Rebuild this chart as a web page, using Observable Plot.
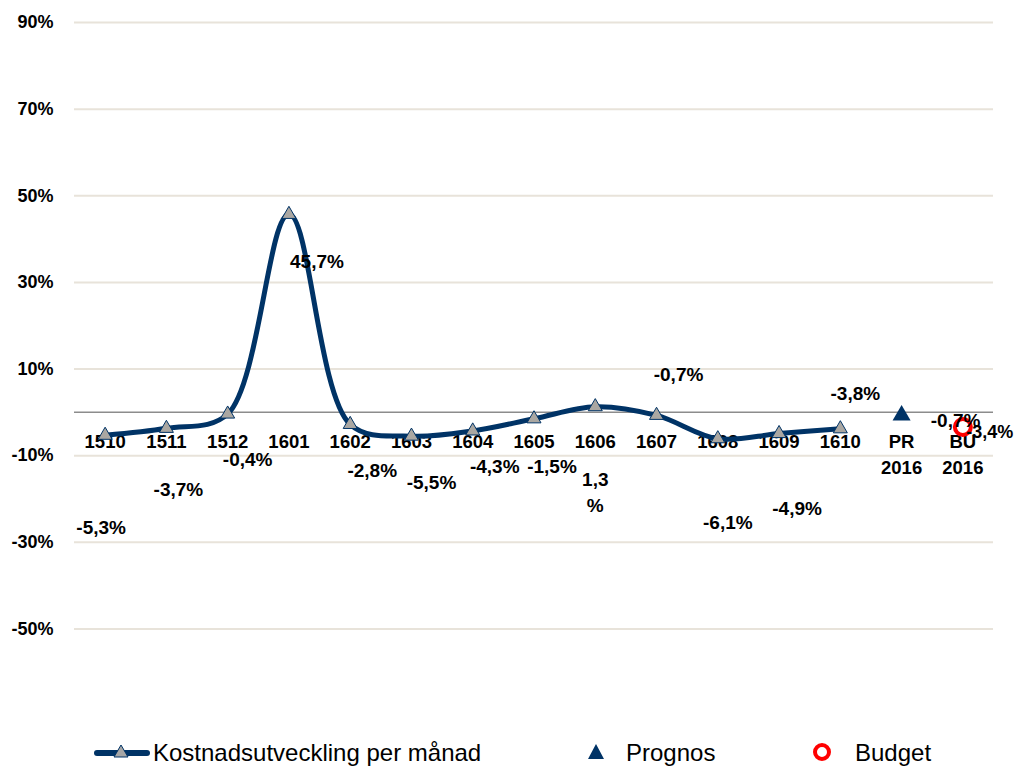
<!DOCTYPE html>
<html>
<head>
<meta charset="utf-8">
<script src="https://cdn.jsdelivr.net/npm/d3@7"></script>
<script src="https://cdn.jsdelivr.net/npm/@observablehq/plot@0.6"></script>
<style>
  html, body { margin: 0; padding: 0; background: #fff; }
  #chart { width: 1015px; }
  .legend { position: relative; width: 1015px; height: 36px; font-family: "Liberation Sans", Arial, sans-serif; font-size: 24px; color: #000; }
  .legend .item { position: absolute; top: 0; height: 36px; display: flex; align-items: center; }
  .legend svg { display: block; }
</style>
</head>
<body>
<div id="chart"></div>
<div class="legend">
  <div class="item" style="left:92px;">
    <svg width="60" height="36"><line x1="5" y1="23" x2="55" y2="23" stroke="#003366" stroke-width="6" stroke-linecap="round"/><path d="M29,15 L36,27 L22,27 Z" fill="#a6a6a6" stroke="#003366" stroke-width="1"/></svg>
    <span style="margin-left:1px; margin-top:10px;">Kostnadsutveckling per månad</span>
  </div>
  <div class="item" style="left:586px;">
    <svg width="22" height="36"><path d="M10,14 L18,29 L2,29 Z" fill="#003366"/></svg>
    <span style="margin-left:18px; margin-top:10px;">Prognos</span>
  </div>
  <div class="item" style="left:812px;">
    <svg width="22" height="36"><circle cx="10" cy="22" r="7" fill="none" stroke="#ff0000" stroke-width="4"/></svg>
    <span style="margin-left:21px; margin-top:10px;">Budget</span>
  </div>
</div>
<script>
// Data
const categories = ["1510","1511","1512","1601","1602","1603","1604","1605","1606","1607","1608","1609","1610","PR\n2016","BU\n2016"];
const monthlyValues = [-5.3, -3.7, -0.4, 45.7, -2.8, -5.5, -4.3, -1.5, 1.3, -0.7, -6.1, -4.9, -3.8];
const prognosValue = -0.7;
const budgetValue = -3.4;
const valueLabels = ["-5,3%","-3,7%","-0,4%","45,7%","-2,8%","-5,5%","-4,3%","-1,5%","1,3\n%","-0,7%","-6,1%","-4,9%","-3,8%","-0,7%","-3,4%"];
const yTicks = [90, 70, 50, 30, 10, -10, -30, -50];

// label placement offsets (px) as in the reference
const labelOffsets = [[-4,91],[12,59],[20,44],[28,45],[22,44],[20,45],[22,34],[18,46],[0,84],[22,-43],[10,82],[18,73],[15,-37],[54,3],[27,3]];

const monthly = monthlyValues.map((v, i) => ({i, v}));
const allValues = [...monthlyValues, prognosValue, budgetValue];
const cats = categories.map((c, i) => ({i, c}));

const font = "'Liberation Sans', Arial, sans-serif";
const navy = "#003366";

const labelMarks = allValues.map((v, i) => Plot.text([{i, v, t: valueLabels[i]}], {
  x: "i", y: "v", text: "t",
  dx: labelOffsets[i][0], dy: labelOffsets[i][1],
  fontSize: i === 14 ? 18 : 19, fontWeight: "bold", fill: "#000", lineHeight: 1.35
}));

const chart = Plot.plot({
  width: 1015,
  height: 730,
  marginLeft: 74,
  marginRight: 22,
  marginTop: 22,
  marginBottom: 15,
  style: {fontFamily: font, background: "#fff"},
  x: {domain: [-0.5, 14.5], axis: null},
  y: {domain: [-70, 90], axis: null},
  marks: [
    Plot.gridY(yTicks, {stroke: "#e8e3da", strokeOpacity: 1, strokeWidth: 2}),
    Plot.axisY(yTicks, {tickSize: 0, tickPadding: 21, label: null, tickFormat: d => d + "%", fontSize: 18, fontWeight: "bold", fill: "#000"}),
    Plot.ruleY([0], {stroke: "#8c8c8c", strokeWidth: 1.6}),
    Plot.text(cats, {x: "i", y: () => 0, text: "c", dy: 17, lineAnchor: "top", lineHeight: 1.42, fontSize: 18.5, fontWeight: "bold", fill: "#000"}),
    Plot.line(monthly, {x: "i", y: "v", stroke: navy, strokeWidth: 5, curve: "catmull-rom", strokeLinejoin: "round"}),
    Plot.dot(monthly, {x: "i", y: "v", symbol: "triangle", r: 5.2, fill: "#aaa7a2", stroke: navy, strokeWidth: 1}),
    Plot.dot([{i: 13, v: prognosValue}], {x: "i", y: "v", symbol: "triangle", r: 6.7, fill: navy, stroke: "none"}),
    Plot.dot([{i: 14, v: budgetValue}], {x: "i", y: "v", r: 8, fill: "none", stroke: "#ff0000", strokeWidth: 4}),
    ...labelMarks
  ]
});
document.getElementById("chart").appendChild(chart);
</script>
</body>
</html>
